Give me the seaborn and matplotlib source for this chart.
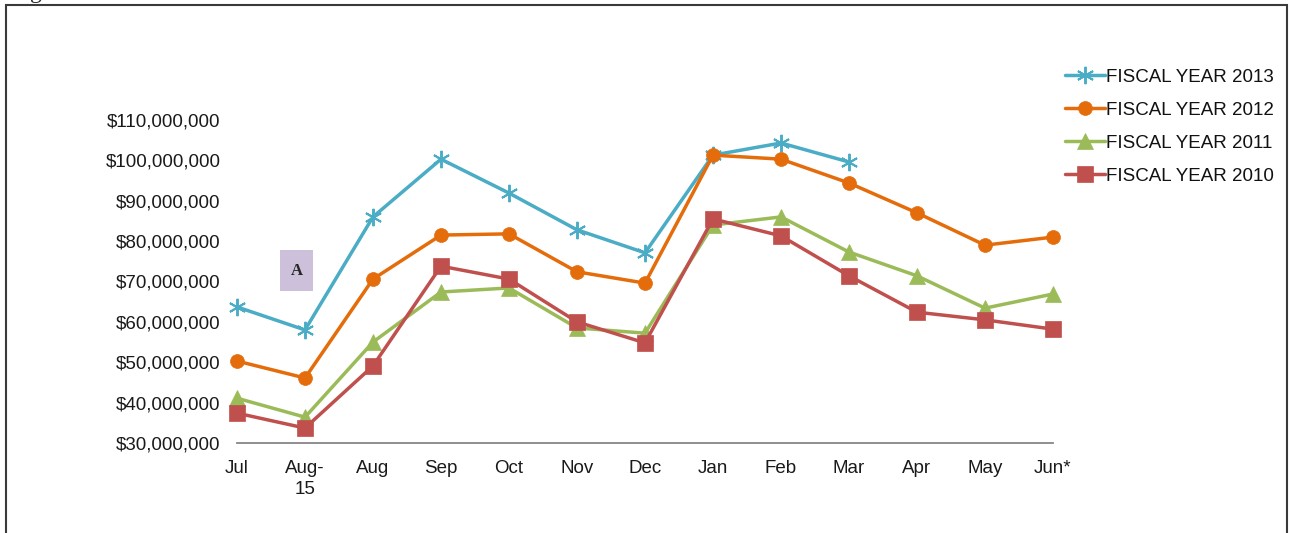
import numpy as np
import matplotlib
matplotlib.use("Agg")
import matplotlib.pyplot as plt
import matplotlib.patches as patches
from matplotlib.ticker import FuncFormatter
import seaborn as sns

months = ["Jul", "Aug-\n15", "Aug", "Sep", "Oct", "Nov", "Dec",
          "Jan", "Feb", "Mar", "Apr", "May", "Jun*"]

# revenue in millions of dollars
fy2013 = [63.7, 58.0, 86.0, 100.3, 91.9, 82.8, 77.1, 101.3, 104.3, 99.6]
fy2012 = [50.3, 46.1, 70.6, 81.5, 81.8, 72.4, 69.6, 101.3, 100.3, 94.4, 87.0, 79.0, 81.0]
fy2011 = [41.1, 36.4, 55.0, 67.4, 68.4, 58.5, 57.2, 84.0, 86.0, 77.3, 71.4, 63.4, 66.9]
fy2010 = [37.4, 33.7, 49.1, 73.8, 70.6, 60.0, 54.8, 85.5, 81.3, 71.4, 62.4, 60.5, 58.2]

series_names = ["FISCAL YEAR 2013", "FISCAL YEAR 2012", "FISCAL YEAR 2011", "FISCAL YEAR 2010"]
series_vals = [fy2013, fy2012, fy2011, fy2010]
colors = ["#4bacc6", "#e46c0a", "#9bbb59", "#c0504d"]
markers = [(6, 2, 0), "o", "^", "s"]
msizes = [12.5, 10, 11, 11]

sns.set_style("white")
plt.rcParams["font.family"] = ["Liberation Sans", "DejaVu Sans"]

fig = plt.figure(figsize=(12.91, 5.33), dpi=100)
ax = fig.add_axes([237 / 1291, 1 - 443 / 533, (1053 - 237) / 1291, (443 - 120) / 533])

for name, vals, c, m, ms in zip(series_names, series_vals, colors, markers, msizes):
    x = np.arange(len(vals))
    y = np.array(vals) * 1e6
    sns.lineplot(x=x, y=y, ax=ax, color=c, marker=m, markersize=ms,
                 markeredgecolor=c, markeredgewidth=1.4 if m == (6, 2, 0) else 0.5,
                 linewidth=2.5, label=name, clip_on=False)

ax.set_xlim(0, 12)
ax.set_ylim(30e6, 110e6)
ax.set_yticks(np.arange(30e6, 110e6 + 1, 10e6))
ax.yaxis.set_major_formatter(FuncFormatter(lambda v, p: "${:,.0f}".format(v)))
ax.set_xticks(np.arange(len(months)))
ax.set_xticklabels(months, linespacing=1.3)
ax.set_xlabel("")
ax.set_ylabel("")

for s in ["top", "right", "left"]:
    ax.spines[s].set_visible(False)
ax.spines["bottom"].set_color("#868686")
ax.spines["bottom"].set_linewidth(1.3)
ax.tick_params(axis="x", direction="out", length=6, width=1.2, color="#868686",
               labelsize=13.5, pad=6, labelcolor="#1a1a1a")
ax.tick_params(axis="y", length=0, labelsize=13.5, pad=12, labelcolor="#1a1a1a")
ax.patch.set_alpha(0)

leg = ax.legend(loc="upper left", bbox_to_anchor=(1056 / 1291, 1 - 59 / 533),
                bbox_transform=fig.transFigure, frameon=False, fontsize=13.5,
                handlelength=2.1, handletextpad=0.05, labelspacing=0.85, borderpad=0)
for t in leg.get_texts():
    t.set_color("#111111")

# label box "A"
fig.patches.append(patches.Rectangle((280 / 1291, 1 - 291 / 533), 33 / 1291, 41 / 533,
                                     transform=fig.transFigure, facecolor="#ccc0da",
                                     edgecolor="none", zorder=5))
fig.text(296.5 / 1291, 1 - 271 / 533, "A", ha="center", va="center", fontsize=12,
         fontweight="bold", family="Liberation Serif", zorder=6)

# outer frame, bottom edge runs past the image
fig.patches.append(patches.Rectangle((6 / 1291, -0.2), 1281 / 1291, 1.2 - 5 / 533,
                                     transform=fig.transFigure, fill=False,
                                     edgecolor="#3a3a3a", linewidth=1.5))
# cut-off glyph of the caption text above the frame
fig.text(30 / 1291, 1 + 2 / 533, "g", ha="left", va="baseline", fontsize=17,
         family="Liberation Serif")

fig.savefig("out.png", dpi=100, facecolor="white")
